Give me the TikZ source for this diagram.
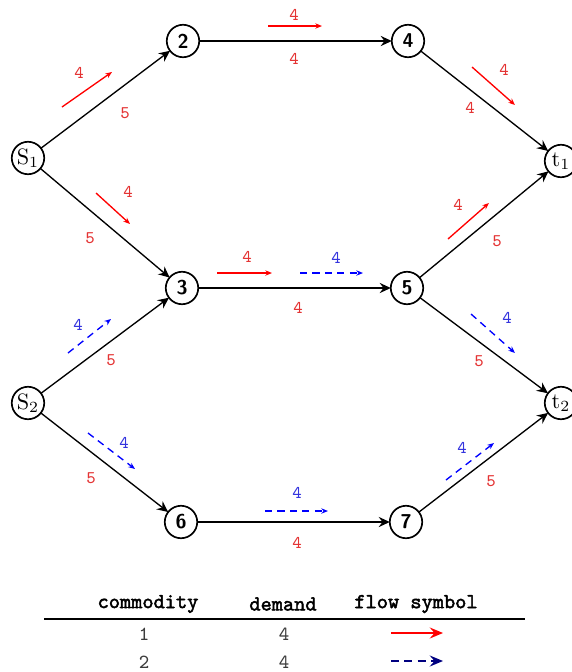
\documentclass[tikz,border=0pt]{standalone}
\usepackage{tikz}
\usepackage{tkz-graph}
\usepackage{xcolor}
\usepackage{fontspec}
\usetikzlibrary{arrows.meta}

\newfontfamily\headfont{Latin Modern Mono}[FakeBold=2.2]

\definecolor{capred}{RGB}{228,52,52}
\definecolor{amtblue}{RGB}{52,52,222}
\definecolor{tabgray}{RGB}{60,60,60}

\tikzset{
  arc/.style    = {draw=black, line width=0.6pt,
                   -{Stealth[length=5pt,width=4.6pt,inset=1.7pt]}},
  capac/.style  = {text=capred, font=\footnotesize\ttfamily, inner sep=1pt},
  amtone/.style = {text=capred, font=\footnotesize\ttfamily, inner sep=1pt},
  amttwo/.style = {text=amtblue, font=\footnotesize\ttfamily, inner sep=1pt},
  flowone/.style= {red, line width=0.6pt, -{Stealth[length=3pt,width=2.4pt]}},
  flowtwo/.style= {blue, line width=0.6pt, dash pattern=on 3.2pt off 2.4pt,
                   -{Stealth[length=3pt,width=2.4pt]}},
  head/.style   = {font=\fontsize{9.6}{11}\headfont},
  cell/.style   = {text=tabgray, font=\small\ttfamily},
}

\begin{document}
\begin{tikzpicture}[x=0.45pt,y=-0.45pt]
\useasboundingbox (0,0) rectangle (571,672);
\SetVertexNormal[
Shape 		= circle,
LineWidth 	= 0.75pt]
\tikzset{VertexStyle/.append style={minimum size=14.6pt, inner sep=0pt,
  font=\small\sffamily\bfseries}}

% vertices
\Vertex[x=28,y=158,L={\normalsize$\mathrm{S}_1$}]{s1}
\Vertex[x=28,y=403,L={\normalsize$\mathrm{S}_2$}]{s2}
\Vertex[x=183,y=41]{2}
\Vertex[x=182,y=288]{3}
\Vertex[x=408,y=41]{4}
\Vertex[x=407,y=288]{5}
\Vertex[x=181,y=522]{6}
\Vertex[x=406,y=522]{7}
\Vertex[x=561,y=161,L={\normalsize$\mathrm{t}_1$}]{t1}
\Vertex[x=561,y=403,L={\normalsize$\mathrm{t}_2$}]{t2}

% arcs
\draw[arc] (s1) -- (2);
\draw[arc] (s1) -- (3);
\draw[arc] (2) -- (4);
\draw[arc] (4) -- (t1);
\draw[arc] (3) -- (5);
\draw[arc] (5) -- (t1);
\draw[arc] (s2) -- (3);
\draw[arc] (5) -- (t2);
\draw[arc] (s2) -- (6);
\draw[arc] (6) -- (7);
\draw[arc] (7) -- (t2);

% capacities
\node[capac] (c-s1-2) at (125,113) {5};
\node[capac] (c-s1-3) at (90,238) {5};
\node[capac] (c-2-4)  at (294,59) {4};
\node[capac] (c-4-t1) at (470,108) {4};
\node[capac] (c-3-5)  at (298,308) {4};
\node[capac] (c-5-t1) at (497,241) {5};
\node[capac] (c-s2-3) at (111,360) {5};
\node[capac] (c-5-t2) at (479,361) {5};
\node[capac] (c-s2-6) at (91,478) {5};
\node[capac] (c-6-7)  at (297,543) {4};
\node[capac] (c-7-t2) at (491,481) {5};

% flow of commodity 1
\draw[flowone] (62,107) -- (112,72);
\node[amtone] (f1-s1-2) at (79,73) {4};
\draw[flowone] (96,193) -- (130,224);
\node[amtone] (f1-s1-3) at (128,192) {4};
\draw[flowone] (268,26) -- (322,26);
\node[amtone] (f1-2-4) at (294,15) {4};
\draw[flowone] (472,67) -- (515,105);
\node[amtone] (f1-4-t1) at (504,70) {4};
\draw[flowone] (217,273) -- (272,273);
\node[amtone] (f1-3-5) at (247,257) {4};
\draw[flowone] (448,239) -- (489,203);
\node[amtone] (f1-5-t1) at (458,205) {4};

% flow of commodity 2
\draw[flowtwo] (68,353) -- (111,319);
\node[amttwo] (f2-s2-3) at (78,325) {4};
\draw[flowtwo] (300,273) -- (363,273);
\node[amttwo] (f2-3-5) at (336,258) {4};
\draw[flowtwo] (471,314) -- (515,353);
\node[amttwo] (f2-5-t2) at (507,318) {4};
\draw[flowtwo] (88,433) -- (135,469);
\node[amttwo] (f2-s2-6) at (124,443) {4};
\draw[flowtwo] (265,511) -- (328,511);
\node[amttwo] (f2-6-7) at (297,493) {4};
\draw[flowtwo] (446,480) -- (494,443);
\node[amttwo] (f2-7-t2) at (462,448) {4};

% legend table
\node[head] (h-com) at (148,604) {commodity};
\node[head] (h-dem) at (283,604) {demand};
\node[head] (h-sym) at (416,604) {flow symbol};
\draw[line width=0.75pt] (44,619) -- (525,619);
\node[cell] (r1-com) at (144,634) {1};
\node[cell] (r1-dem) at (284,634) {4};
\node[cell] (r2-com) at (144,662) {2};
\node[cell] (r2-dem) at (284,662) {4};
\coordinate (r1-a) at (391,633);
\coordinate (r1-b) at (443,633);
\coordinate (r2-a) at (391,661);
\coordinate (r2-b) at (443,661);
\draw[red, line width=0.6pt, -{Stealth[length=6pt,width=5pt,inset=2.2pt]}] (r1-a) -- (r1-b);
\draw[blue!50!black, line width=0.75pt, dash pattern=on 3.6pt off 2.4pt,
  -{Stealth[length=6pt,width=5pt,inset=2.2pt]}] (r2-a) -- (r2-b);
\end{tikzpicture}
\end{document}
